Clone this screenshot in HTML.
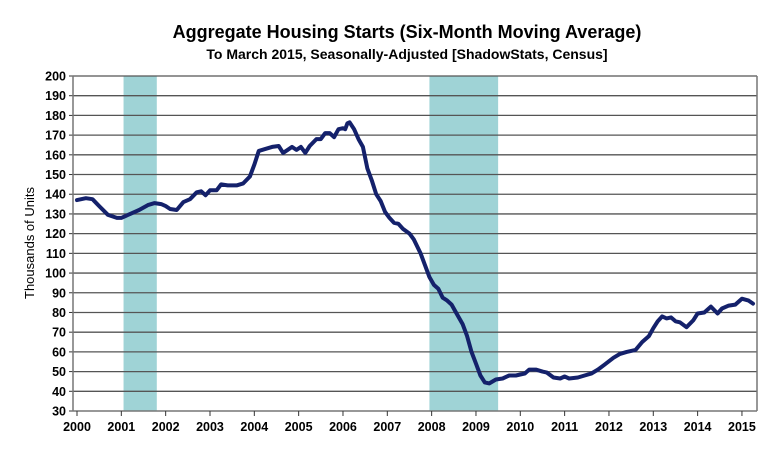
<!DOCTYPE html>
<html><head><meta charset="utf-8"><style>
body{margin:0;background:#fff;}
svg{display:block;font-family:"Liberation Sans",Arial,sans-serif;}
</style></head><body>
<svg id="s" width="781" height="459" viewBox="0 0 781 459">
<rect width="781" height="459" fill="#fff"/>
<text x="407" y="38" text-anchor="middle" font-size="18" font-weight="bold">Aggregate Housing Starts (Six-Month Moving Average)</text>
<text x="407" y="59" text-anchor="middle" font-size="14" font-weight="bold">To March 2015, Seasonally-Adjusted [ShadowStats, Census]</text>
<text transform="translate(34,243) rotate(-90)" text-anchor="middle" font-size="13">Thousands of Units</text>
<g id="g"></g>
</svg>
<script>
var g=document.getElementById('g'),h='';
function X(y){return 77+44.33*(y-2000);}
function Y(v){return 411-1.9706*(v-30);}
h+='<rect x="'+X(2001.05)+'" y="76" width="'+(X(2001.8)-X(2001.05))+'" height="335" fill="#9fd3d6"/>';
h+='<rect x="'+X(2007.95)+'" y="76" width="'+(X(2009.5)-X(2007.95))+'" height="335" fill="#9fd3d6"/>';
for(var v=30;v<=200;v+=10){var y=Y(v);
 if(v>30)h+='<line x1="73" x2="757" y1="'+y+'" y2="'+y+'" stroke="#555" stroke-width="1.3"/>';
 h+='<line x1="69" x2="73" y1="'+y+'" y2="'+y+'" stroke="#333"/>';
 h+='<text x="66" y="'+(y+4.5)+'" text-anchor="end" font-size="12.5" font-weight="bold">'+v+'</text>';}
h+='<line x1="73" x2="73" y1="76" y2="411" stroke="#777" stroke-width="1.5"/>';
h+='<line x1="757" x2="757" y1="76" y2="411" stroke="#777" stroke-width="1.5"/>';
h+='<line x1="73" x2="757" y1="411" y2="411" stroke="#777" stroke-width="1.5"/>';
for(var yr=2000;yr<=2015;yr++){var x=X(yr);
 h+='<line x1="'+x+'" x2="'+x+'" y1="411" y2="416" stroke="#333"/>';
 h+='<text x="'+x+'" y="431" text-anchor="middle" font-size="12.5" font-weight="bold">'+yr+'</text>';}
var d=[2000.0,137,2000.2,138,2000.35,137.5,2000.5,134,2000.7,129.5,2000.9,128,2001.0,128,2001.2,130,2001.4,132,2001.6,134.5,2001.75,135.5,2001.9,135,2002.0,134,2002.1,132.5,2002.25,132,2002.4,136,2002.55,137.5,2002.7,141,2002.8,141.5,2002.9,139.5,2003.0,142,2003.15,142,2003.25,145,2003.4,144.5,2003.6,144.5,2003.75,145.5,2003.9,149,2004.0,155,2004.1,162,2004.25,163,2004.4,164,2004.55,164.5,2004.65,161,2004.75,162.5,2004.85,164,2004.95,162.5,2005.05,164,2005.15,161,2005.25,164.5,2005.4,168,2005.5,168,2005.6,171,2005.7,171,2005.8,169,2005.9,173,2006.0,173.5,2006.05,173,2006.1,176,2006.15,176.5,2006.25,173,2006.35,168,2006.45,164,2006.55,153,2006.65,147,2006.75,140,2006.85,136.5,2006.95,131,2007.05,128,2007.15,125.5,2007.25,125,2007.35,122.5,2007.5,120,2007.6,117,2007.75,110,2007.85,104,2007.95,98,2008.05,94,2008.15,92,2008.25,87.5,2008.35,86,2008.45,84,2008.55,80,2008.7,74,2008.8,68,2008.9,60,2009.0,54,2009.1,48,2009.2,44.5,2009.3,44,2009.45,46,2009.6,46.5,2009.75,48,2009.9,48,2010.0,48.5,2010.1,49,2010.2,51,2010.35,51,2010.5,50,2010.6,49.5,2010.75,47,2010.9,46.5,2011.0,47.5,2011.1,46.5,2011.3,47,2011.45,48,2011.6,49,2011.75,51,2011.9,53.5,2012.1,57,2012.25,59,2012.4,60,2012.6,61,2012.75,65,2012.9,68,2013.0,72,2013.1,75.5,2013.2,78,2013.3,77,2013.4,77.5,2013.5,75.5,2013.6,75,2013.75,72.5,2013.9,76,2014.0,79.5,2014.15,80,2014.3,83,2014.45,79.5,2014.55,82,2014.7,83.5,2014.85,84,2015.0,87,2015.15,86,2015.25,84.5];
var p='';for(var i=0;i<d.length;i+=2)p+=X(d[i]).toFixed(1)+','+Y(d[i+1]).toFixed(1)+' ';
h+='<polyline points="'+p+'" fill="none" stroke="#14216b" stroke-width="4" stroke-linejoin="round" stroke-linecap="round"/>';
g.innerHTML=h;
</script>
</body></html>
